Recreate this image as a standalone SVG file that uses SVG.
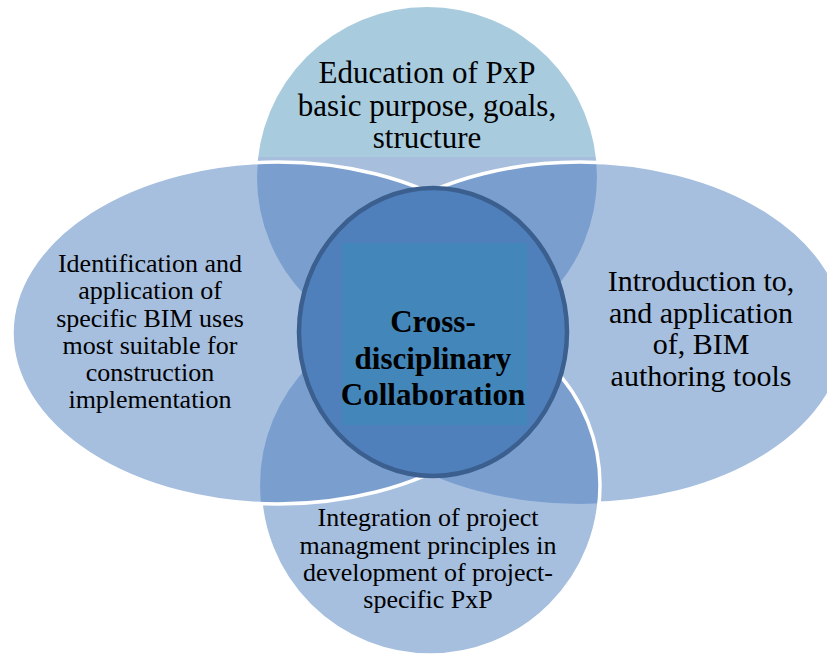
<svg xmlns="http://www.w3.org/2000/svg" xmlns:xlink="http://www.w3.org/1999/xlink" width="827" height="656" viewBox="0 0 827 656">
<style>
.lbl{font-family:"Liberation Serif","Times New Roman",serif;fill:#000;text-anchor:middle}
.big{font-size:31px}
.mid{font-size:30px}
.small{font-size:26px}
.ctr{font-size:31px;font-weight:bold}
.petal{fill:#4d7fbf;fill-opacity:0.5;stroke:none}
.edge{fill:none;stroke:#fff;stroke-width:3.5}
</style>
<defs>
<linearGradient id="gTop" gradientUnits="userSpaceOnUse" x1="0" y1="0" x2="0" y2="656">
<stop offset="0" stop-color="#a9cbde"/>
<stop offset="0.2393" stop-color="#a9cbde"/>
<stop offset="0.2394" stop-color="#a7bfdd"/>
<stop offset="1" stop-color="#a7bfdd"/>
</linearGradient>
<ellipse id="shR" cx="580" cy="333" rx="266" ry="171"/>
<circle id="shB" cx="430" cy="485" r="170"/>
<ellipse id="shL" cx="278" cy="333" rx="266" ry="171"/>
<mask id="mR" maskUnits="userSpaceOnUse" x="0" y="0" width="827" height="656">
<rect width="827" height="656" fill="#fff"/>
<use xlink:href="#shB" fill="#000"/>
<use xlink:href="#shL" fill="#000"/>
</mask>
<mask id="mB" maskUnits="userSpaceOnUse" x="0" y="0" width="827" height="656">
<rect width="827" height="656" fill="#fff"/>
<use xlink:href="#shL" fill="#000"/>
</mask>
</defs>
<rect width="827" height="656" fill="#fff"/>

<g id="node-top">
<circle cx="427" cy="177" r="170" fill="url(#gTop)"/>
</g>
<g id="node-right">
<use xlink:href="#shR" class="petal"/>
<use xlink:href="#shR" class="edge" mask="url(#mR)"/>
</g>
<g id="node-bottom">
<use xlink:href="#shB" class="petal"/>
<use xlink:href="#shB" class="edge" mask="url(#mB)"/>
</g>
<g id="node-left">
<use xlink:href="#shL" class="petal"/>
<use xlink:href="#shL" class="edge"/>
</g>
<g id="node-center">
<ellipse cx="433" cy="332" rx="134" ry="144" fill="#4f80bc" stroke="#3b5f8e" stroke-width="4.5"/>
<rect x="342" y="243" width="185" height="182" fill="#4386ba"/>
<text class="lbl ctr" x="433" y="332">Cross-</text>
<text class="lbl ctr" x="433" y="368.5">disciplinary</text>
<text class="lbl ctr" x="433" y="405">Collaboration</text>
</g>

<g id="labels">
<text class="lbl big" x="427" y="83">Education of PxP</text>
<text class="lbl big" x="427" y="115.5">basic purpose, goals,</text>
<text class="lbl big" x="427" y="148">structure</text>

<text class="lbl mid" x="701" y="291">Introduction to,</text>
<text class="lbl mid" x="701" y="322.5">and application</text>
<text class="lbl mid" x="701" y="354">of, BIM</text>
<text class="lbl mid" x="701" y="385.5">authoring tools</text>

<text class="lbl small" x="150" y="272">Identification and</text>
<text class="lbl small" x="150" y="299">application of</text>
<text class="lbl small" x="150" y="326.5">specific BIM uses</text>
<text class="lbl small" x="150" y="353.5">most suitable for</text>
<text class="lbl small" x="150" y="381">construction</text>
<text class="lbl small" x="150" y="408">implementation</text>

<text class="lbl small" x="428" y="526">Integration of project</text>
<text class="lbl small" x="428" y="553.5">managment principles in</text>
<text class="lbl small" x="428" y="581">development of project-</text>
<text class="lbl small" x="428" y="608">specific PxP</text>
</g>
<g id="connectors"/>
</svg>
